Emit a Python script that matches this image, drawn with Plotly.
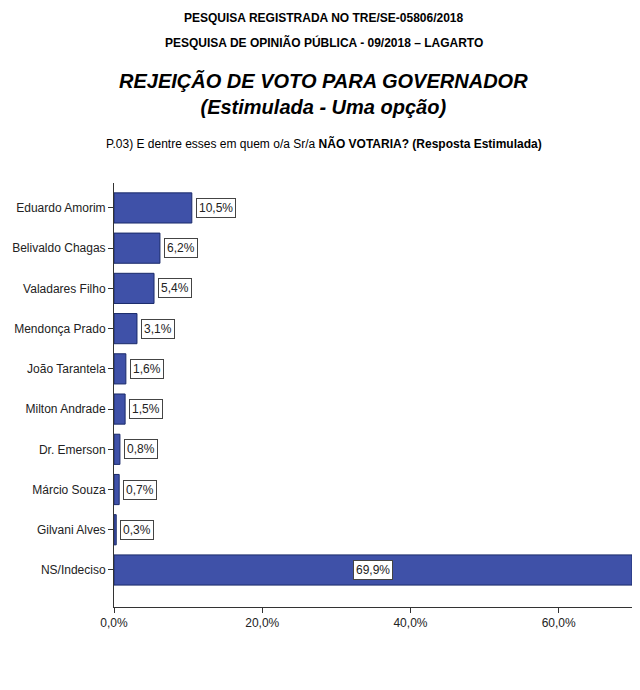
import plotly.graph_objects as go

candidatos = ["Eduardo Amorim", "Belivaldo Chagas", "Valadares Filho", "Mendonça Prado",
              "João Tarantela", "Milton Andrade", "Dr. Emerson", "Márcio Souza",
              "Gilvani Alves", "NS/Indeciso"]
rejeicao = [10.5, 6.2, 5.4, 3.1, 1.6, 1.5, 0.8, 0.7, 0.3, 69.9]
rotulos = ["10,5%", "6,2%", "5,4%", "3,1%", "1,6%", "1,5%", "0,8%", "0,7%", "0,3%", "69,9%"]
ticks_x = [0, 20, 40, 60]
ticks_txt = ["0,0%", "20,0%", "40,0%", "60,0%"]

fonte = "Liberation Sans, Arial"

fig = go.Figure()
fig.add_trace(go.Bar(
    x=rejeicao, y=candidatos, orientation="h", width=0.75,
    marker=dict(color="#3f51a8", line=dict(color="#1a2a6a", width=1)),
    hoverinfo="skip"))

# rotulos: fora da barra para as pequenas, centralizado na grande
for nome, v, txt in zip(candidatos, rejeicao, rotulos):
    dentro = v > 30
    fig.add_annotation(
        x=v / 2 if dentro else v, y=nome, text=txt, showarrow=False,
        xanchor="center" if dentro else "left", xshift=0 if dentro else 4,
        font=dict(family=fonte, size=12, color="#222"),
        bgcolor="white", bordercolor="#444", borderwidth=1, borderpad=2)

def cabecalho(texto, dy, tam):
    fig.add_annotation(xref="paper", yref="paper", x=0.40, y=1.0, yshift=dy,
                       yanchor="middle", text=texto, showarrow=False,
                       font=dict(family=fonte, size=tam, color="black"))

cabecalho("<b>PESQUISA REGISTRADA NO TRE/SE-05806/2018</b>", 165, 12)
cabecalho("<b>PESQUISA DE OPINIÃO PÚBLICA - 09/2018 – LAGARTO</b>", 141, 12)
cabecalho("<b><i>REJEIÇÃO DE VOTO PARA GOVERNADOR<br>(Estimulada - Uma opção)</i></b>", 89, 20)
cabecalho("P.03) E dentre esses em quem o/a Sr/a <b>NÃO VOTARIA? (Resposta Estimulada)</b>", 40, 12)

fig.update_layout(
    width=632, height=682, margin=dict(l=106, r=2, t=175, b=83),
    paper_bgcolor="white", plot_bgcolor="white", showlegend=False,
    xaxis=dict(range=[0, 70.7], tickvals=ticks_x, ticktext=ticks_txt, showgrid=False,
               zeroline=False, showline=True, linecolor="#333", ticks="outside",
               ticklen=5, tickcolor="#333", automargin=False,
               tickfont=dict(family=fonte, size=12, color="#222")),
    yaxis=dict(categoryorder="array", categoryarray=candidatos, range=[9.92, -0.62],
               showgrid=False, showline=True, linecolor="#333", ticks="outside",
               ticklen=5, tickcolor="#333", automargin=False,
               tickfont=dict(family=fonte, size=12, color="#222")),
)

fig.write_html("out.html")
